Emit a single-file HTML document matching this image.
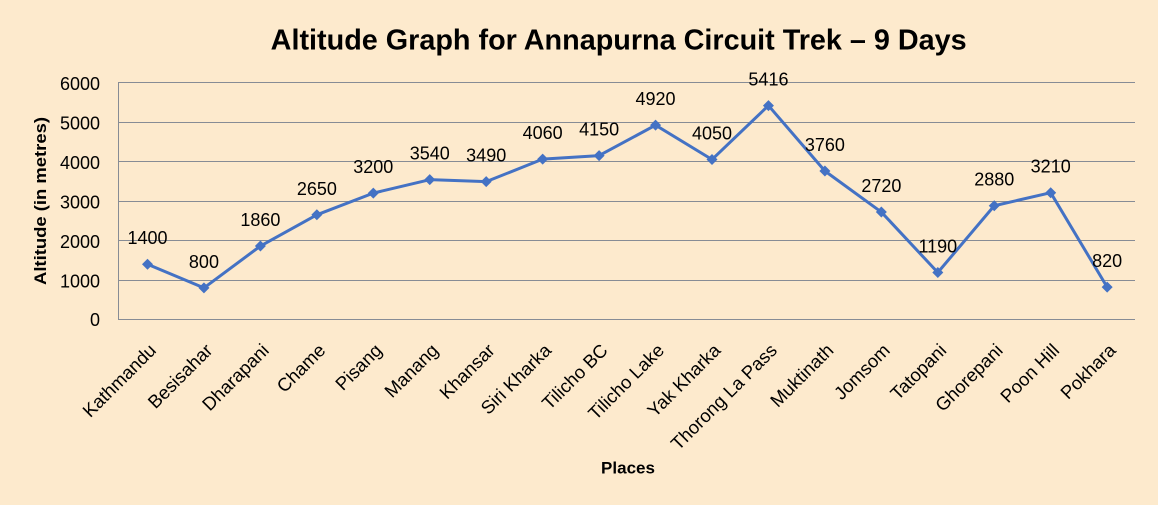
<!DOCTYPE html>
<html>
<head>
<meta charset="utf-8">
<style>
html,body{margin:0;padding:0;background:#FDEACD;}
svg{display:block;}
text{font-family:"Liberation Sans",Arial,sans-serif;fill:#000;}
</style>
</head>
<body>
<svg width="1158" height="505" viewBox="0 0 1158 505" xmlns="http://www.w3.org/2000/svg">
<rect x="0" y="0" width="1158" height="505" fill="#FDEACD"/>
<text x="618.7" y="49.3" font-size="28.5" font-weight="bold" text-anchor="middle" textLength="696" lengthAdjust="spacingAndGlyphs">Altitude Graph for Annapurna Circuit Trek – 9 Days</text>

<g stroke="#878C95" stroke-width="1">
<line x1="118" y1="82.5" x2="1135" y2="82.5"/>
<line x1="118" y1="122.5" x2="1135" y2="122.5"/>
<line x1="118" y1="161.5" x2="1135" y2="161.5"/>
<line x1="118" y1="201.5" x2="1135" y2="201.5"/>
<line x1="118" y1="240.5" x2="1135" y2="240.5"/>
<line x1="118" y1="280.5" x2="1135" y2="280.5"/>
<line x1="118" y1="319.5" x2="1135" y2="319.5"/>
<line x1="118.5" y1="82" x2="118.5" y2="320"/>
</g>

<g font-size="18" text-anchor="end">
<text x="100" y="90">6000</text>
<text x="100" y="129.5">5000</text>
<text x="100" y="169">4000</text>
<text x="100" y="208.5">3000</text>
<text x="100" y="248">2000</text>
<text x="100" y="287.5">1000</text>
<text x="100" y="326">0</text>
</g>

<text transform="translate(46,201) rotate(-90)" font-size="17" font-weight="bold" text-anchor="middle" textLength="168" lengthAdjust="spacingAndGlyphs">Altitude (in metres)</text>

<polyline fill="none" stroke="#4472C4" stroke-width="3" stroke-linejoin="round" points="147.5,264.2 203.95,287.9 260.4,246.03 316.85,214.8 373.3,193.1 429.75,179.67 486.2,181.65 542.65,159.13 599.1,155.58 655.55,125.16 712,159.53 768.45,105.57 824.9,170.98 881.35,212.06 937.8,272.5 994.25,205.74 1050.7,192.7 1107.15,287.11"/>

<g fill="#4472C4">
<polygon points="147.5,258.7 153,264.2 147.5,269.7 142,264.2"/>
<polygon points="203.95,282.4 209.45,287.9 203.95,293.4 198.45,287.9"/>
<polygon points="260.4,240.53 265.9,246.03 260.4,251.53 254.9,246.03"/>
<polygon points="316.85,209.3 322.35,214.8 316.85,220.3 311.35,214.8"/>
<polygon points="373.3,187.6 378.8,193.1 373.3,198.6 367.8,193.1"/>
<polygon points="429.75,174.17 435.25,179.67 429.75,185.17 424.25,179.67"/>
<polygon points="486.2,176.15 491.7,181.65 486.2,187.15 480.7,181.65"/>
<polygon points="542.65,153.63 548.15,159.13 542.65,164.63 537.15,159.13"/>
<polygon points="599.1,150.08 604.6,155.58 599.1,161.08 593.6,155.58"/>
<polygon points="655.55,119.66 661.05,125.16 655.55,130.66 650.05,125.16"/>
<polygon points="712,154.03 717.5,159.53 712,165.03 706.5,159.53"/>
<polygon points="768.45,100.07 773.95,105.57 768.45,111.07 762.95,105.57"/>
<polygon points="824.9,165.48 830.4,170.98 824.9,176.48 819.4,170.98"/>
<polygon points="881.35,206.56 886.85,212.06 881.35,217.56 875.85,212.06"/>
<polygon points="937.8,267 943.3,272.5 937.8,278 932.3,272.5"/>
<polygon points="994.25,200.24 999.75,205.74 994.25,211.24 988.75,205.74"/>
<polygon points="1050.7,187.2 1056.2,192.7 1050.7,198.2 1045.2,192.7"/>
<polygon points="1107.15,281.61 1112.65,287.11 1107.15,292.61 1101.65,287.11"/>
</g>

<g font-size="18" text-anchor="middle">
<text x="147.5" y="244.2">1400</text>
<text x="203.95" y="267.9">800</text>
<text x="260.4" y="226.03">1860</text>
<text x="316.85" y="194.8">2650</text>
<text x="373.3" y="173.1">3200</text>
<text x="429.75" y="159.67">3540</text>
<text x="486.2" y="161.65">3490</text>
<text x="542.65" y="139.13">4060</text>
<text x="599.1" y="135.58">4150</text>
<text x="655.55" y="105.16">4920</text>
<text x="712" y="139.53">4050</text>
<text x="768.45" y="85.57">5416</text>
<text x="824.9" y="150.98">3760</text>
<text x="881.35" y="192.06">2720</text>
<text x="937.8" y="252.5">1190</text>
<text x="994.25" y="185.74">2880</text>
<text x="1050.7" y="172.7">3210</text>
<text x="1107.15" y="267.11">820</text>
</g>

<g font-size="18.5" text-anchor="end">
<text transform="translate(157.2,351.5) rotate(-45)">Kathmandu</text>
<text transform="translate(213.65,351.5) rotate(-45)">Besisahar</text>
<text transform="translate(270.1,351.5) rotate(-45)">Dharapani</text>
<text transform="translate(326.55,351.5) rotate(-45)">Chame</text>
<text transform="translate(383,351.5) rotate(-45)">Pisang</text>
<text transform="translate(439.45,351.5) rotate(-45)">Manang</text>
<text transform="translate(495.9,351.5) rotate(-45)">Khansar</text>
<text transform="translate(552.35,351.5) rotate(-45)">Siri Kharka</text>
<text transform="translate(608.8,351.5) rotate(-45)">Tilicho BC</text>
<text transform="translate(665.25,351.5) rotate(-45)">Tilicho Lake</text>
<text transform="translate(721.7,351.5) rotate(-45)">Yak Kharka</text>
<text transform="translate(778.15,351.5) rotate(-45)">Thorong La Pass</text>
<text transform="translate(834.6,351.5) rotate(-45)">Muktinath</text>
<text transform="translate(891.05,351.5) rotate(-45)">Jomsom</text>
<text transform="translate(947.5,351.5) rotate(-45)">Tatopani</text>
<text transform="translate(1003.95,351.5) rotate(-45)">Ghorepani</text>
<text transform="translate(1060.4,351.5) rotate(-45)">Poon Hill</text>
<text transform="translate(1116.85,351.5) rotate(-45)">Pokhara</text>
</g>

<text x="628" y="473.3" font-size="17" font-weight="bold" text-anchor="middle">Places</text>
</svg>
</body>
</html>
